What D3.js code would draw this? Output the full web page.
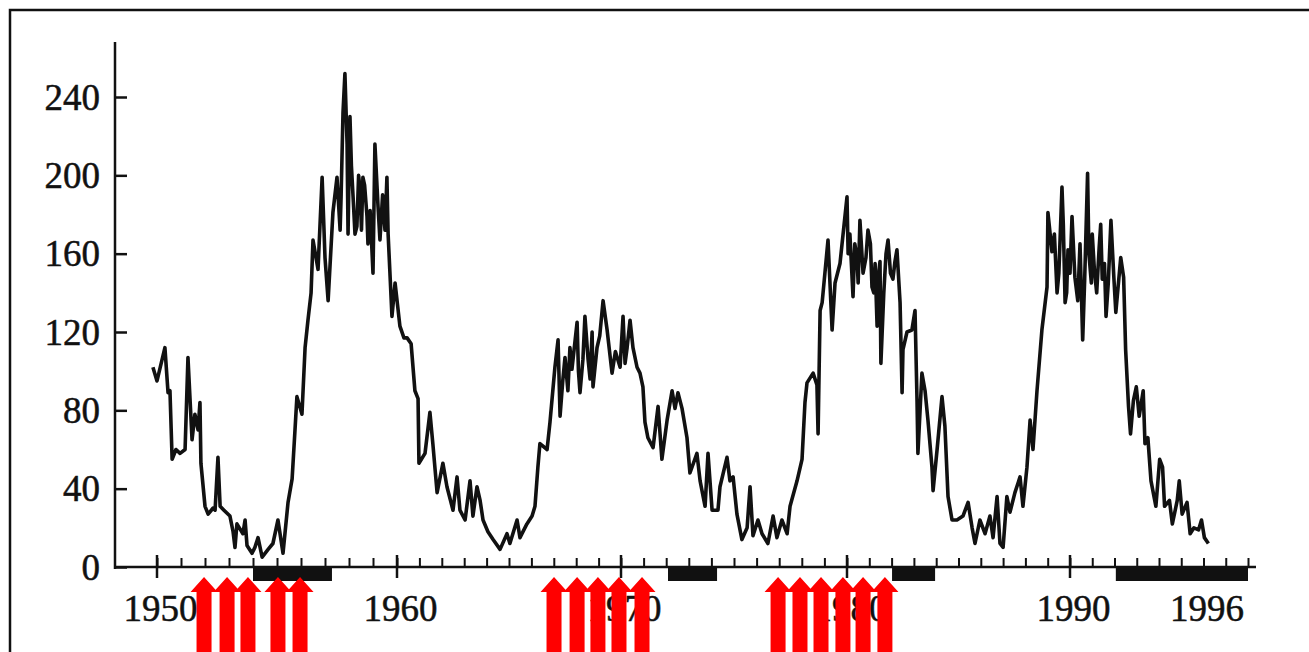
<!DOCTYPE html>
<html>
<head>
<meta charset="utf-8">
<script src="https://cdn.jsdelivr.net/npm/d3@7"></script>
<style>
    body { margin: 0; background: #fff; overflow: hidden; }
    .axis text { font-family: "Liberation Serif", "DejaVu Serif", serif; font-size: 37px; fill: #111; stroke: #111; stroke-width: 0.5px; }
    .axis line, .axis path { stroke: #111; }
</style>
</head>
<body>
<script>
(function(){

    //sunspot record: decimal year and monthly value
    var years = [
        1949.83,1950.00,1950.33,1950.46,1950.54,1950.63,1950.79,1950.96,1951.17,1951.29,
        1951.46,1951.58,1951.71,1951.79,1951.83,1952.00,1952.13,1952.33,1952.42,1952.54,
        1952.63,1952.79,1953.04,1953.17,1953.25,1953.33,1953.58,1953.67,1953.75,1953.96,
        1954.08,1954.21,1954.38,1954.63,1954.83,1955.04,1955.25,1955.46,1955.63,1955.75,
        1955.83,1956.04,1956.17,1956.29,1956.42,1956.50,1956.71,1956.88,1957.00,1957.13,
        1957.33,1957.50,1957.63,1957.67,1957.75,1957.83,1957.92,1957.96,1958.04,1958.17,
        1958.33,1958.46,1958.58,1958.75,1958.79,1958.88,1959.00,1959.08,1959.21,1959.29,
        1959.58,1959.63,1959.79,1959.92,1960.13,1960.31,1960.45,1960.63,1960.80,1960.94,
        1960.98,1961.25,1961.47,1961.60,1961.79,1962.05,1962.23,1962.50,1962.68,1962.81,
        1963.04,1963.26,1963.39,1963.57,1963.71,1963.84,1964.06,1964.29,1964.60,1964.91,
        1965.04,1965.36,1965.49,1965.80,1966.03,1966.16,1966.29,1966.38,1966.70,1966.83,
        1967.05,1967.19,1967.28,1967.50,1967.63,1967.81,1968.04,1968.17,1968.30,1968.39,
        1968.53,1968.71,1968.75,1968.93,1969.20,1969.38,1969.60,1969.96,1970.09,1970.27,
        1970.40,1970.53,1970.71,1970.84,1970.97,1971.06,1971.19,1971.42,1971.64,1971.81,
        1972.04,1972.26,1972.39,1972.52,1972.70,1972.92,1973.05,1973.36,1973.50,1973.72,
        1973.85,1974.03,1974.29,1974.38,1974.69,1974.82,1974.96,1975.13,1975.35,1975.58,
        1975.71,1975.84,1976.06,1976.24,1976.50,1976.73,1976.90,1977.12,1977.35,1977.48,
        1977.79,1978.01,1978.14,1978.23,1978.50,1978.67,1978.72,1978.81,1978.90,1979.16,
        1979.34,1979.47,1979.69,1980.00,1980.13,1980.27,1980.45,1980.58,1980.72,1980.94,
        1981.12,1981.26,1981.35,1981.48,1981.52,1981.84,1982.06,1982.15,1982.24,1982.38,
        1982.47,1982.51,1982.69,1982.91,1983.05,1983.14,1983.18,1983.36,1983.50,1983.63,
        1983.81,1983.86,1984.04,1984.26,1984.39,1984.53,1984.71,1984.93,1985.20,1985.43,
        1985.61,1985.74,1985.96,1986.19,1986.41,1986.55,1986.73,1986.86,1987.00,1987.17,
        1987.31,1987.53,1987.76,1987.89,1988.07,1988.21,1988.34,1988.52,1988.74,1988.97,
        1989.01,1989.19,1989.42,1989.64,1989.78,1989.91,1990.09,1990.22,1990.35,1990.57,
        1990.66,1990.79,1990.96,1991.10,1991.31,1991.45,1991.62,1991.84,1991.97,1992.06,
        1992.28,1992.41,1992.50,1992.63,1992.72,1992.85,1992.98,1993.11,1993.29,1993.37,
        1993.50,1993.64,1993.86,1994.03,1994.16,1994.25,1994.47,1994.60,1994.82,1994.91,
        1995.04,1995.26,1995.40,1995.57,1995.78,1995.91,1996.04,1996.22,
        //extra readings in the dense maxima
        1958.10,1958.25,1958.40,1958.52,1958.65,1959.40,1959.50,
        1967.40,1967.72,1968.10,1968.62,1969.05,1969.75,1970.18,
        1980.05,1980.35,1980.50,1980.85,1981.05,1981.20,1981.42,1981.65,1981.75,1981.95,
        1989.30,1989.50,1989.70,1989.85,1990.00,1990.45,1990.85,1991.00,1991.20,1991.38,1991.55,1991.72
    ];
    var sunspots = [
        102,95,112,89,90,55,60,58,60,107,
        65,78,70,84,53,31,27,30,29,56,
        31,29,26,18,10,22,17,24,11,7,
        10,15,5,9,12,24,7,33,45,70,
        87,78,112,126,140,167,152,199,158,136,
        181,199,172,189,232,252,216,170,230,189,
        174,193,199,179,165,182,150,216,184,167,
        199,170,128,145,123,117,117,114,90,86,
        53,58,79,63,38,53,41,29,46,29,
        24,44,26,41,34,24,18,14,9,17,
        12,24,15,22,26,31,51,63,60,74,
        102,116,77,107,90,101,125,89,106,128,
        106,120,92,112,136,121,99,102,128,112,
        126,112,102,99,92,74,66,61,82,55,
        75,90,81,89,81,66,48,58,44,31,
        58,29,29,41,56,44,46,27,14,20,
        41,16,24,17,12,26,15,24,17,31,
        44,55,84,94,99,93,68,131,135,167,
        121,145,155,189,170,138,158,177,150,172,
        143,155,123,156,104,167,147,156,162,135,
        89,111,120,121,131,85,58,99,90,75,
        51,39,60,87,72,36,24,24,26,33,
        20,12,24,17,26,15,36,12,10,36,
        28,38,46,31,51,75,60,90,121,143,
        181,161,140,194,135,162,179,148,136,116,
        147,201,145,151,163,147,128,177,148,130,
        158,148,111,82,68,85,92,77,90,63,
        66,44,31,55,51,31,34,22,34,44,
        27,33,17,20,19,24,15,12,
        205,170,200,172,195,190,172,
        95,112,100,96,118,110,104,
        160,165,145,158,165,140,150,140,160,150,
        170,150,175,140,150,165,160,170,140,175,155,145
    ];

    //axis ticks and labels
    var yTicks = [0, 40, 80, 120, 160, 200, 240];
    var yearLabels = [1950, 1960, 1970, 1980, 1990, 1996];
    var decadeTicks = [1950, 1960, 1970, 1980, 1990];

    //black bars under the axis (start / end year)
    var barStart = [1954.0, 1972.08, 1982.02, 1992.06];
    var barEnd = [1957.29, 1974.25, 1983.95, 1998.0];

    //red arrows
    var arrowYears = [
        1951.96, 1952.92, 1953.79, 1955.04, 1955.96,
        1967.01, 1968.04, 1968.97, 1969.91, 1970.93,
        1976.95, 1977.92, 1978.85, 1979.82, 1980.72, 1981.70
    ];

    window.onload = drawChart();

    function drawChart(){
        var width = 1309,
            height = 652,
            axisX = 115,
            axisY = 567;

        var svg = d3.select("body")
            .append("svg")
            .attr("width", width)
            .attr("height", height);

        //frame round the figure (cut off at right and bottom)
        svg.append("rect")
            .attr("x", 10)
            .attr("y", 10)
            .attr("width", 1340)
            .attr("height", 700)
            .style("fill", "none")
            .style("stroke", "#111")
            .style("stroke-width", 2.5);

        //scan is slightly stretched, so the year scale is piecewise
        var x = d3.scaleLinear()
            .domain([1950, 1960, 1970, 1980, 1990, 1998])
            .range([157, 397, 621, 847, 1070, 1248]);

        var y = d3.scaleLinear()
            .domain([0, 240])
            .range([axisY, 97]);

        //y axis
        var yAxis = svg.append("g")
            .attr("class", "axis")
            .attr("transform", "translate(" + axisX + ",0)")
            .call(d3.axisLeft(y)
                .tickValues(yTicks)
                .tickSizeInner(-12)
                .tickSizeOuter(0)
                .tickPadding(15));
        yAxis.select(".domain").remove();
        yAxis.selectAll("line").style("stroke-width", 2.5);
        yAxis.selectAll("text").attr("dy", "0.33em");

        svg.append("line")
            .attr("x1", axisX).attr("x2", axisX)
            .attr("y1", 42).attr("y2", axisY + 2)
            .style("stroke", "#111")
            .style("stroke-width", 2.5);

        //x axis, yearly ticks pointing up
        var xMinor = svg.append("g")
            .attr("class", "axis")
            .attr("transform", "translate(0," + axisY + ")")
            .call(d3.axisBottom(x)
                .tickValues(d3.range(1950, 1999))
                .tickSizeInner(-9)
                .tickSizeOuter(0)
                .tickFormat(""));
        xMinor.select(".domain").remove();
        xMinor.selectAll("line").style("stroke-width", 2);

        svg.append("line")
            .attr("x1", axisX).attr("x2", 1256)
            .attr("y1", axisY).attr("y2", axisY)
            .style("stroke", "#111")
            .style("stroke-width", 2.5);

        //decade ticks cross the axis
        svg.selectAll(".major")
            .data(decadeTicks)
            .enter()
            .append("line")
            .attr("class", "major")
            .attr("x1", function(d){ return x(d); })
            .attr("x2", function(d){ return x(d); })
            .attr("y1", axisY - 12)
            .attr("y2", axisY + 11)
            .style("stroke", "#111")
            .style("stroke-width", 2.5);

        //year labels
        var xLabels = svg.append("g")
            .attr("class", "axis")
            .attr("transform", "translate(0," + axisY + ")")
            .call(d3.axisBottom(x)
                .tickValues(yearLabels)
                .tickSize(0)
                .tickPadding(28)
                .tickFormat(d3.format("d")));
        xLabels.select(".domain").remove();
        xLabels.selectAll("text").attr("dx", 3);

        //black bars hanging under the axis
        svg.selectAll(".minbar")
            .data(barStart)
            .enter()
            .append("rect")
            .attr("class", "minbar")
            .attr("x", function(d){ return x(d); })
            .attr("y", axisY)
            .attr("width", function(d, i){ return x(barEnd[i]) - x(d); })
            .attr("height", 14)
            .style("fill", "#111");

        //sunspot curve, readings sorted by time
        var points = years.map(function(d, i){ return [d, sunspots[i]]; });
        points.sort(function(a, b){ return a[0] - b[0]; });
        var line = d3.line()
            .x(function(d){ return x(d[0]); })
            .y(function(d){ return y(d[1]); });

        svg.append("path")
            .datum(points)
            .attr("d", line)
            .style("fill", "none")
            .style("stroke", "#111")
            .style("stroke-width", 3.6)
            .style("stroke-linejoin", "round");

        //red arrows pointing up at the axis
        var tipY = 577, headH = 15, headW = 13.5, shaftW = 7.5;
        svg.selectAll(".arrow")
            .data(arrowYears)
            .enter()
            .append("path")
            .attr("class", "arrow")
            .attr("d", function(d){
                var cx = x(d);
                return "M" + cx + "," + tipY +
                    "L" + (cx + headW) + "," + (tipY + headH) +
                    "L" + (cx + shaftW) + "," + (tipY + headH) +
                    "L" + (cx + shaftW) + "," + (height + 5) +
                    "L" + (cx - shaftW) + "," + (height + 5) +
                    "L" + (cx - shaftW) + "," + (tipY + headH) +
                    "L" + (cx - headW) + "," + (tipY + headH) + "Z";
            })
            .style("fill", "#f00");
    };

})();
</script>
</body>
</html>
